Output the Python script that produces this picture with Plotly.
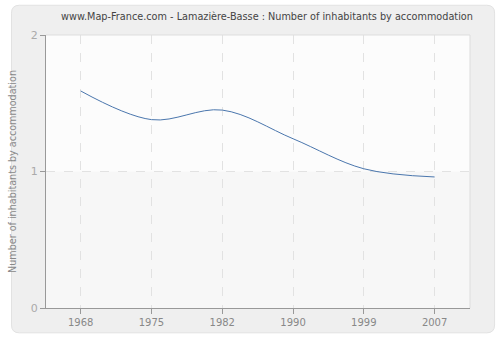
import plotly.graph_objects as go

years = ["1968", "1975", "1982", "1990", "1999", "2007"]
values = [1.59, 1.38, 1.45, 1.24, 1.02, 0.96]
y_ticks = [0, 1, 2]

fig = go.Figure()
fig.add_trace(go.Scatter(
    x=list(range(len(years))), y=values, mode="lines",
    line=dict(color="#4a76ad", width=1, shape="spline", smoothing=1.0),
    hoverinfo="skip", showlegend=False))

L, R, T, B = -0.0814, 1.058, 1.109, -0.091
rx, ry = 0.0186, 0.029
rounded = (f"M {L} {B+ry} L {L} {T-ry} Q {L} {T} {L+rx} {T} "
           f"L {R-rx} {T} Q {R} {T} {R} {T-ry} "
           f"L {R} {B+ry} Q {R} {B} {R-rx} {B} "
           f"L {L+rx} {B} Q {L} {B} {L} {B+ry} Z")

fig.update_layout(
    width=500, height=340,
    margin=dict(l=40, r=30, t=35, b=30),
    paper_bgcolor="white",
    plot_bgcolor="#fbfbfb",
    font=dict(family="DejaVu Sans", size=10, color="#888"),
    title=dict(text="www.Map-France.com - Lamazière-Basse : Number of inhabitants by accommodation",
               x=0.534, xanchor="center", y=0.95, yanchor="middle",
               font=dict(size=9.7, color="#444", family="DejaVu Sans")),
    shapes=[
        dict(type="path", xref="paper", yref="paper", layer="below",
             path=rounded, fillcolor="#efefef", line=dict(color="#e2e2e2", width=1)),
        dict(type="rect", xref="paper", yref="paper", x0=0, x1=1, y0=0, y1=1,
             layer="below", fillcolor="#fcfcfc", line=dict(width=0)),
        dict(type="rect", xref="paper", yref="y", x0=0, x1=1, y0=0, y1=1,
             layer="below", fillcolor="#f7f7f7", line=dict(width=0)),
        dict(type="line", xref="paper", yref="paper", x0=1, x1=1, y0=0, y1=1,
             line=dict(color="#dddddd", width=1)),
        dict(type="line", xref="paper", yref="paper", x0=0, x1=1, y0=1, y1=1,
             line=dict(color="#dddddd", width=1)),
    ],
)
fig.update_xaxes(
    tickmode="array", tickvals=list(range(len(years))), ticktext=years,
    range=[-0.49, 5.5], showline=True, linecolor="#999", linewidth=1,
    ticks="outside", ticklen=5, tickcolor="#999",
    showgrid=True, gridcolor="#e2e2e2", griddash="dash", gridwidth=1,
    zeroline=False, fixedrange=True, tickfont=dict(size=10, color="#888"))
fig.update_yaxes(
    tickmode="array", tickvals=y_ticks, ticktext=[str(v) for v in y_ticks],
    range=[0, 2], showline=True, linecolor="#999", linewidth=1,
    ticks="outside", ticklen=5, tickcolor="#999",
    showgrid=True, gridcolor="#e2e2e2", griddash="dash", gridwidth=1,
    zeroline=False, fixedrange=True, tickfont=dict(size=11, color="#aaa"),
    title=dict(text="Number of inhabitants by accommodation", standoff=12,
               font=dict(size=9.6, color="#888")))

fig.write_html("out.html")
